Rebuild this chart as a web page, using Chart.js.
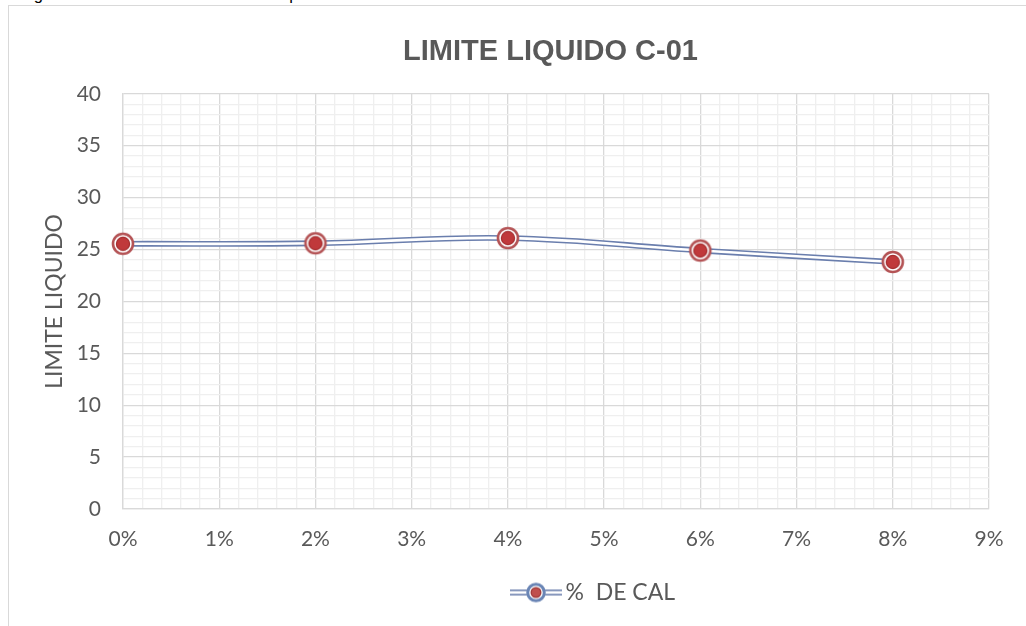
<!DOCTYPE html>
<html>
<head>
<meta charset="utf-8">
<script src="https://cdn.jsdelivr.net/npm/chart.js@4/dist/chart.umd.min.js"></script>
<style>
  html, body { margin: 0; padding: 0; background: #ffffff; width: 1026px; height: 626px; overflow: hidden; position: relative; }
  #caption { position: absolute; left: 20px; top: -15.7px; font: 16.5px/20px "Liberation Sans", Arial, sans-serif; color: #000; white-space: nowrap; }
  #frame { position: absolute; left: 8px; top: 5px; width: 1200px; height: 800px; border: 1.5px solid #d9d9d9; box-sizing: border-box; }
  #wrap { position: absolute; left: 8px; top: 5px; width: 1085px; height: 626px; }
</style>
</head>
<body>
<div id="caption">Figura 11. Resultados de la muestra patrón con cal</div>
<div id="frame"></div>
<div id="wrap"><canvas id="chart" width="1085" height="626"></canvas></div>
<script>
// Lime content (% DE CAL) and measured liquid limit for sample C-01
const pctCal = [0, 2, 4, 6, 8];
const limiteLiquido = [25.55, 25.6, 26.1, 24.9, 23.8];
const xTickLabels = ['0%', '1%', '2%', '3%', '4%', '5%', '6%', '7%', '8%', '9%'];
const yTickLabels = [0, 5, 10, 15, 20, 25, 30, 35, 40];
const seriesName = '%  DE CAL';

const points = pctCal.map((x, i) => ({ x: x, y: limiteLiquido[i] }));

const LINE_BLUE = '#6a7ead';
const MAJOR = '#d9d9d9';
const MINOR = '#efefef';
const TEXT = '#595959';
const LEGEND_SHIFT = 46;

function isWhole(v) { return Math.abs(v - Math.round(v)) < 1e-6; }

// marker: red dot inside a white gap and a darker red ring
function makeMarker() {
  const c = document.createElement('canvas');
  c.width = 26; c.height = 26;
  const g = c.getContext('2d');
  g.beginPath(); g.arc(13, 13, 11, 0, Math.PI * 2); g.fillStyle = '#ffffff'; g.fill();
  g.beginPath(); g.arc(13, 13, 10, 0, Math.PI * 2);
  g.lineWidth = 2.6; g.strokeStyle = 'rgba(172,64,66,0.9)'; g.stroke();
  g.beginPath(); g.arc(13, 13, 6.6, 0, Math.PI * 2);
  g.fillStyle = '#c0393b'; g.fill();
  g.lineWidth = 1.2; g.strokeStyle = '#a52f31'; g.stroke();
  return c;
}

// legend symbol: double line with ringed marker
function makeLegendIcon() {
  const c = document.createElement('canvas');
  c.width = 52; c.height = 22;
  const g = c.getContext('2d');
  g.fillStyle = LINE_BLUE;
  g.fillRect(0, 8, 52, 1.6);
  g.fillRect(0, 12.4, 52, 1.6);
  g.beginPath(); g.arc(26, 11, 9.5, 0, Math.PI * 2); g.fillStyle = '#ffffff'; g.fill();
  g.beginPath(); g.arc(26, 11, 8.3, 0, Math.PI * 2);
  g.lineWidth = 3; g.strokeStyle = '#6a85b5'; g.stroke();
  g.beginPath(); g.arc(26, 11, 4.8, 0, Math.PI * 2);
  g.fillStyle = '#c0504d'; g.fill();
  g.lineWidth = 1.4; g.strokeStyle = '#a33b3b'; g.stroke();
  return c;
}

const marker = makeMarker();
const legendIcon = makeLegendIcon();

// moves the legend box sideways after layout
const legendOffset = {
  id: 'legendOffset',
  afterLayout(chart) {
    const l = chart.legend;
    if (l) { l.left += LEGEND_SHIFT; l.right += LEGEND_SHIFT; }
  }
};

new Chart(document.getElementById('chart'), {
  type: 'line',
  plugins: [legendOffset],
  data: {
    datasets: [
      {
        // inner white stroke of the double line, plus the markers
        label: seriesName,
        data: points,
        order: 0,
        borderColor: '#ffffff',
        borderWidth: 2.6,
        tension: 0.4,
        pointStyle: marker,
        pointRadius: 11,
        pointHoverRadius: 11,
        clip: false
      },
      {
        // outer blue stroke of the double line
        label: 'outline',
        data: points,
        order: 1,
        borderColor: LINE_BLUE,
        borderWidth: 5.8,
        tension: 0.4,
        pointRadius: 0,
        clip: false
      }
    ]
  },
  options: {
    responsive: false,
    animation: false,
    devicePixelRatio: 1,
    layout: { padding: { left: 0, right: 0, top: 0, bottom: 17 } },
    plugins: {
      tooltip: { enabled: false },
      title: {
        display: true,
        text: 'LIMITE LIQUIDO C-01',
        color: TEXT,
        font: { family: '"Liberation Sans", Arial, sans-serif', weight: 'bold', size: 29 },
        padding: { top: 30, bottom: 24 }
      },
      legend: {
        position: 'bottom',
        labels: {
          usePointStyle: true,
          pointStyleWidth: 36,
          boxHeight: 22,
          color: TEXT,
          font: { family: 'Lato, "Open Sans", sans-serif', size: 23 },
          generateLabels: (chart) => {
            const items = Chart.defaults.plugins.legend.labels.generateLabels(chart);
            return items.filter(it => it.datasetIndex === 0).map(it => Object.assign(it, { pointStyle: legendIcon }));
          }
        }
      }
    },
    scales: {
      x: {
        type: 'linear',
        min: 0,
        max: 9,
        ticks: {
          stepSize: 0.2,
          autoSkip: false,
          maxRotation: 0,
          maxTicksLimit: 200,
          padding: 18,
          color: TEXT,
          font: { family: 'Lato, "Open Sans", sans-serif', size: 21 },
          callback: (v) => isWhole(v) ? xTickLabels[Math.round(v)] : ''
        },
        grid: {
          drawTicks: false,
          lineWidth: 1.3,
          color: (ctx) => (ctx.tick && isWhole(ctx.tick.value)) ? MAJOR : MINOR
        },
        border: { color: MAJOR, width: 1.3 },
        afterFit: (s) => { s.height = 62; }
      },
      y: {
        min: 0,
        max: 40,
        ticks: {
          stepSize: 1,
          autoSkip: false,
          maxTicksLimit: 200,
          padding: 22,
          color: TEXT,
          font: { family: 'Lato, "Open Sans", sans-serif', size: 21 },
          callback: (v) => (isWhole(v / 5)) ? String(yTickLabels[Math.round(v / 5)]) : ''
        },
        grid: {
          drawTicks: false,
          lineWidth: 1.3,
          color: (ctx) => (ctx.tick && isWhole(ctx.tick.value / 5)) ? MAJOR : MINOR
        },
        border: { color: MAJOR, width: 1.3 },
        title: {
          display: true,
          text: 'LIMITE LIQUIDO',
          color: TEXT,
          font: { family: 'Lato, "Open Sans", sans-serif', size: 23 },
          padding: { top: 33, bottom: 0 }
        },
        afterFit: (s) => { s.width = 115; }
      },
      yRight: {
        position: 'right',
        display: true,
        min: 0,
        max: 1,
        grid: { display: false },
        border: { display: false },
        ticks: { display: false },
        afterFit: (s) => { s.width = 104; }
      }
    }
  }
});
</script>
</body>
</html>
